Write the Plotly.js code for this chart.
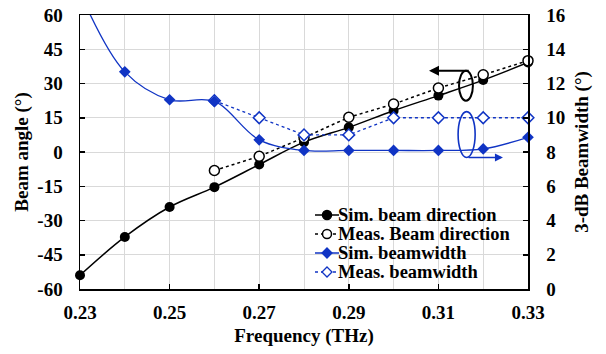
<!DOCTYPE html>
<html><head><meta charset="utf-8">
<script src="https://cdn.plot.ly/plotly-3.0.1.min.js"></script>
<style>html,body{margin:0;padding:0;background:#fff}#chart{width:606px;height:354px}</style>
</head><body><div id="chart"></div>
<script>
// Data
const freq = [0.23,0.24,0.25,0.26,0.27,0.28,0.29,0.30,0.31,0.32,0.33];
const simDir = [-54,-37.2,-24.1,-15.4,-5.5,4.3,10.8,18.1,24.7,31.5,39.2];
const measFreq = [0.26,0.27,0.28,0.29,0.30,0.31,0.32,0.33];
const measDir = [-8.1,-1.9,6.3,15.2,21.0,28.0,33.8,40.0];
const simBw = [17.3,12.68,11.05,10.95,8.71,8.09,8.09,8.09,8.09,8.18,8.86];
const measBw = [11.0,10.0,9.0,9.0,10.0,10.0,10.0,10.0];
const xTicks = [0.23,0.25,0.27,0.29,0.31,0.33];
const yTicks = [-60,-45,-30,-15,0,15,30,45,60];
const y2Ticks = [0,2,4,6,8,10,12,14,16];
const names = ['Sim. beam direction','Meas. Beam direction','Sim. beamwidth','Meas. beamwidth'];

const BLUE = '#1034c4';
const FONT = {family:'Liberation Serif', size:19, color:'#000', weight:700};
const b = s => '<b>' + s + '</b>';

const traces = [
  {x:freq, y:simDir, name:names[0], mode:'lines+markers', line:{shape:'spline', color:'#000', width:1.5},
   marker:{symbol:'circle', size:10, color:'#000'}, cliponaxis:false},
  {x:measFreq, y:measDir, name:names[1], mode:'lines+markers', line:{color:'#000', width:1.5, dash:'dot'},
   marker:{symbol:'circle', size:10, color:'#fff', line:{color:'#000', width:1.5}}, cliponaxis:false},
  {x:measFreq, y:measBw, name:names[3], yaxis:'y2', mode:'lines+markers', line:{color:BLUE, width:1.3, dash:'dot'},
   marker:{symbol:'diamond', size:9, color:'#fff', line:{color:BLUE, width:1.5}}, cliponaxis:false},
  {x:freq, y:simBw, name:names[2], yaxis:'y2', mode:'lines', line:{shape:'spline', color:BLUE, width:1.3}, cliponaxis:true},
  {x:freq.slice(1), y:simBw.slice(1), yaxis:'y2', mode:'markers', marker:{symbol:'diamond', size:9, color:BLUE},
   cliponaxis:false}
];

// Manual legend (compact rows like the reference)
const L = 80, T = 15, W = 448, H = 274;
const px = v => (v - L) / W, py = v => 1 - (v - T) / H;
const legendStyles = [
  {color:'#000', dash:'solid', sym:'circle', fill:'#000'},
  {color:'#000', dash:'dot', sym:'circle', fill:'#fff'},
  {color:BLUE, dash:'solid', sym:'diamond', fill:BLUE},
  {color:BLUE, dash:'dot', sym:'diamond', fill:'#fff'}
];
const legShapes = [], legAnns = [];
names.forEach((nm, i) => {
  const s = legendStyles[i];
  const cy = 215 + 19 * i;
  legShapes.push({type:'line', xref:'paper', yref:'paper', x0:px(315), x1:px(339), y0:py(cy), y1:py(cy),
                  line:{color:s.color, width:1.5, dash:s.dash}});
  if (s.sym === 'circle') {
    legShapes.push({type:'circle', xref:'paper', yref:'paper', xsizemode:'pixel', ysizemode:'pixel',
                    xanchor:px(327), yanchor:py(cy), x0:-4.5, x1:4.5, y0:-4.5, y1:4.5,
                    fillcolor:s.fill, line:{color:s.color, width:1.5}});
  } else {
    legShapes.push({type:'path', xref:'paper', yref:'paper', xsizemode:'pixel', ysizemode:'pixel',
                    xanchor:px(327), yanchor:py(cy), path:'M0,5L5,0L0,-5L-5,0Z',
                    fillcolor:s.fill, line:{color:s.color, width:1.3}});
  }
  legAnns.push({xref:'paper', yref:'paper', x:px(336), y:py(cy), xanchor:'left', yanchor:'middle',
                text:b(nm), showarrow:false, font:{...FONT, size:18.5}});
});

const TF = {...FONT, size:19};
const layout = {
  width:606, height:354,
  margin:{l:80, r:78, t:15, b:65},
  paper_bgcolor:'#fff', plot_bgcolor:'#fff',
  font:FONT,
  showlegend:false,
  xaxis:{range:[0.23,0.33], tickvals:xTicks, ticktext:xTicks.map(v => b(v.toFixed(2))),
         ticks:'inside', ticklen:5, tickwidth:1.5, tickcolor:'#000',
         showline:true, linecolor:'#000', linewidth:1.5, mirror:true, zeroline:false,
         showgrid:true, gridcolor:'#d9d9d9', gridwidth:1,
         minor:{dtick:0.01, tick0:0.23, showgrid:true, gridcolor:'#d9d9d9', gridwidth:1},
         ticklabelstandoff:6, tickfont:TF,
         title:{text:b('Frequency (THz)'), font:TF, standoff:6}},
  yaxis:{range:[-60,60], tickvals:yTicks, ticktext:yTicks.map(v => b(String(v))),
         ticks:'inside', ticklen:5, tickwidth:1.5, tickcolor:'#000',
         showline:true, linecolor:'#000', linewidth:1.5, zeroline:false,
         showgrid:true, gridcolor:'#d9d9d9', gridwidth:1, ticklabelstandoff:12, tickfont:TF,
         title:{text:b('Beam angle (°)'), font:TF, standoff:3}},
  yaxis2:{range:[0,16], tickvals:y2Ticks, ticktext:y2Ticks.map(v => b(String(v))),
          overlaying:'y', side:'right', ticks:'inside', ticklen:5, tickwidth:1.5, tickcolor:'#000',
          showline:true, linecolor:'#000', linewidth:1.5, zeroline:false, showgrid:false, ticklabelstandoff:13, tickfont:TF,
          title:{text:b('3-dB Beamwidth (°)'), font:TF, standoff:10}},
  shapes:[
    {type:'circle', xref:'x', yref:'y', x0:0.3146, x1:0.3177, y0:22.5, y1:35.6, line:{color:'#000', width:2}},
    {type:'circle', xref:'x', yref:'y', x0:0.3144, x1:0.3182, y0:-2.4, y1:17.7, line:{color:BLUE, width:1.6}}
  ].concat(legShapes),
  annotations:[
    {x:0.3079, y:35.6, ax:0.3171, ay:35.6, xref:'x', yref:'y', axref:'x', ayref:'y', text:'', showarrow:true,
     arrowhead:2, arrowsize:1, arrowwidth:2, arrowcolor:'#000'},
    {x:0.3244, y:-2.4, ax:0.3164, ay:-2.4, xref:'x', yref:'y', axref:'x', ayref:'y', text:'', showarrow:true,
     arrowhead:2, arrowsize:1, arrowwidth:1.6, arrowcolor:BLUE}
  ].concat(legAnns)
};

Plotly.newPlot('chart', traces, layout, {displayModeBar:false, staticPlot:true});
</script>
</body></html>
